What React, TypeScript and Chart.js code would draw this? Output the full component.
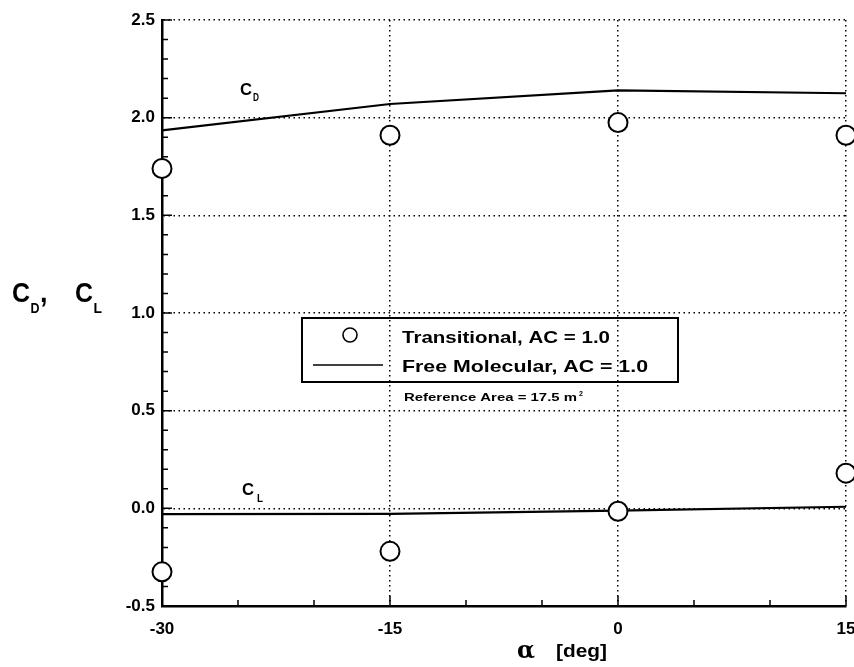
import React, { useEffect, useRef } from 'react';
import { Chart, registerables } from 'chart.js';

Chart.register(...registerables);

// Angle of attack, deg
const alphaDeg = [-30, -15, 0, 15];

// Free molecular (solid curves)
const freeMolCD = [1.935, 2.07, 2.14, 2.125];
const freeMolCL = [-0.03, -0.028, -0.012, 0.008];

// Transitional (open circles)
const transCD = [1.74, 1.91, 1.975, 1.91];
const transCL = [-0.325, -0.22, -0.015, 0.18];

// Axis ranges, tick labels and inward tick marks
const xRange = [-30, 15];
const yRange = [-0.5, 2.5];
const xTickLabels = ['-30', '-15', '0', '15'];
const xMajorTicks = [-30, -15, 0, 15];
const xMinorTicks = [-25, -20, -10, -5, 5, 10];
const yMajorTicks = [-0.5, 0, 0.5, 1.0, 1.5, 2.0, 2.5];
const yMinorTicks = [
  -0.4, -0.3, -0.2, -0.1, 0.1, 0.2, 0.3, 0.4, 0.6, 0.7, 0.8, 0.9,
  1.1, 1.2, 1.3, 1.4, 1.6, 1.7, 1.8, 1.9, 2.1, 2.2, 2.3, 2.4,
];

const legendLabels = ['Transitional, AC = 1.0', 'Free Molecular, AC = 1.0'];
const refAreaLabel = 'Reference Area = 17.5 m';

const SANS = '"Liberation Sans", Arial, sans-serif';

function stretchText(
  ctx: CanvasRenderingContext2D,
  text: string,
  x: number,
  y: number,
  font: string,
  width?: number
) {
  ctx.save();
  ctx.font = font;
  const w = ctx.measureText(text).width;
  const sx = width ? width / w : 1;
  ctx.translate(x, y);
  ctx.scale(sx, 1);
  ctx.fillText(text, 0, 0);
  ctx.restore();
}

const tickPlugin = {
  id: 'inwardTicks',
  beforeDatasetsDraw(chart: any) {
    const { ctx, scales, chartArea } = chart;
    const x = scales.x;
    const y = scales.y;
    ctx.save();
    ctx.strokeStyle = '#000';
    ctx.lineWidth = 1.5;
    ctx.beginPath();
    const b = chartArea.bottom;
    const l = chartArea.left;
    xMajorTicks.forEach((v) => {
      const px = x.getPixelForValue(v);
      ctx.moveTo(px, b);
      ctx.lineTo(px, b - 10);
    });
    xMinorTicks.forEach((v) => {
      const px = x.getPixelForValue(v);
      ctx.moveTo(px, b);
      ctx.lineTo(px, b - 6);
    });
    yMajorTicks.forEach((v) => {
      const py = y.getPixelForValue(v);
      ctx.moveTo(l, py);
      ctx.lineTo(l + 10, py);
    });
    yMinorTicks.forEach((v) => {
      const py = y.getPixelForValue(v);
      ctx.moveTo(l, py);
      ctx.lineTo(l + 6, py);
    });
    ctx.stroke();

    // x tick labels
    ctx.fillStyle = '#000';
    ctx.font = `bold 17px ${SANS}`;
    ctx.textAlign = 'center';
    ctx.textBaseline = 'alphabetic';
    xMajorTicks.forEach((v, i) => {
      ctx.fillText(xTickLabels[i], x.getPixelForValue(v), b + 28);
    });
    ctx.restore();
  },
  afterDraw(chart: any) {
    const { ctx } = chart;
    ctx.save();
    ctx.fillStyle = '#000';
    ctx.strokeStyle = '#000';
    ctx.textBaseline = 'alphabetic';
    ctx.textAlign = 'left';

    // y-axis title: C_D, C_L
    stretchText(ctx, 'C', 12, 302, `bold 27px ${SANS}`, 18);
    stretchText(ctx, 'D', 30.5, 313, `bold 14px ${SANS}`, 9);
    stretchText(ctx, ',', 40, 302, `bold 27px ${SANS}`);
    stretchText(ctx, 'C', 75, 302, `bold 27px ${SANS}`, 18);
    stretchText(ctx, 'L', 93.5, 313, `bold 14px ${SANS}`, 8.5);

    // x-axis title: α [deg]
    stretchText(ctx, '\u03b1', 517, 658, `bold 25px "DejaVu Serif", "Liberation Serif", serif`, 18);
    stretchText(ctx, '[deg]', 556, 657, `bold 18px ${SANS}`, 51);

    // curve annotations
    stretchText(ctx, 'C', 240, 95, `bold 17px ${SANS}`, 12);
    stretchText(ctx, 'D', 253, 101, `bold 10px ${SANS}`, 6);
    stretchText(ctx, 'C', 242, 495, `bold 17px ${SANS}`, 12);
    stretchText(ctx, 'L', 257, 502, `bold 10px ${SANS}`, 6);

    // legend box
    ctx.lineWidth = 2;
    ctx.strokeRect(302, 318, 376, 64);
    ctx.lineWidth = 1.6;
    ctx.beginPath();
    ctx.arc(350, 335, 7, 0, Math.PI * 2);
    ctx.fillStyle = '#fff';
    ctx.fill();
    ctx.stroke();
    ctx.fillStyle = '#000';
    ctx.beginPath();
    ctx.moveTo(313, 365);
    ctx.lineTo(383, 365);
    ctx.stroke();
    stretchText(ctx, legendLabels[0], 402, 343, `bold 17px ${SANS}`, 208);
    stretchText(ctx, legendLabels[1], 402, 372, `bold 17px ${SANS}`, 246);

    // reference area note
    stretchText(ctx, refAreaLabel, 404, 401, `bold 11px ${SANS}`, 173);
    stretchText(ctx, '2', 579, 396, `bold 7px ${SANS}`);
    ctx.restore();
  },
};

export default function App() {
  const canvasRef = useRef<HTMLCanvasElement | null>(null);

  useEffect(() => {
    document.body.style.margin = '0';
    const canvas = canvasRef.current;
    if (!canvas) return;

    const toXY = (ys: number[]) => alphaDeg.map((a, i) => ({ x: a, y: ys[i] }));

    const pointStyle = {
      showLine: false,
      pointStyle: 'circle' as const,
      pointRadius: 9.5,
      pointHoverRadius: 9.5,
      pointBackgroundColor: '#fff',
      pointBorderColor: '#000',
      pointBorderWidth: 2,
      clip: false as const,
    };
    const lineStyle = {
      showLine: true,
      pointRadius: 0,
      borderColor: '#000',
      borderWidth: 2.2,
      tension: 0,
      clip: false as const,
    };

    const chart = new Chart(canvas, {
      type: 'scatter',
      data: {
        datasets: [
          { label: 'Transitional C_D', data: toXY(transCD), ...pointStyle },
          { label: 'Transitional C_L', data: toXY(transCL), ...pointStyle },
          { label: 'Free Molecular C_D', data: toXY(freeMolCD), ...lineStyle },
          { label: 'Free Molecular C_L', data: toXY(freeMolCL), ...lineStyle },
        ],
      },
      options: {
        animation: false,
        responsive: false,
        devicePixelRatio: 1,
        layout: { autoPadding: false, padding: { top: 20, right: 8, bottom: 0, left: 0 } },
        plugins: {
          legend: { display: false },
          tooltip: { enabled: false },
        },
        events: [],
        scales: {
          x: {
            type: 'linear',
            min: xRange[0],
            max: xRange[1],
            afterFit: (s: any) => {
              s.height = 61;
            },
            ticks: {
              display: false,
              stepSize: 15,
            },
            grid: {
              color: '#000',
              lineWidth: 1.5,
              drawTicks: false,
            },
            border: { display: true, color: '#000', width: 2.5, dash: [1.5, 3.5] },
          },
          y: {
            type: 'linear',
            min: yRange[0],
            max: yRange[1],
            afterFit: (s: any) => {
              s.width = 162;
            },
            ticks: {
              stepSize: 0.5,
              color: '#000',
              padding: 7,
              font: { family: SANS, size: 17, weight: 'bold' },
              callback: (v: any) => Number(v).toFixed(1),
            },
            grid: {
              color: '#000',
              lineWidth: 1.5,
              drawTicks: false,
            },
            border: { display: true, color: '#000', width: 2.5, dash: [1.5, 3.5] },
          },
        },
      },
      plugins: [tickPlugin],
    });

    return () => chart.destroy();
  }, []);

  return (
    <div style={{ width: 854, height: 667, background: '#fff' }}>
      <canvas ref={canvasRef} width={854} height={667} />
    </div>
  );
}
